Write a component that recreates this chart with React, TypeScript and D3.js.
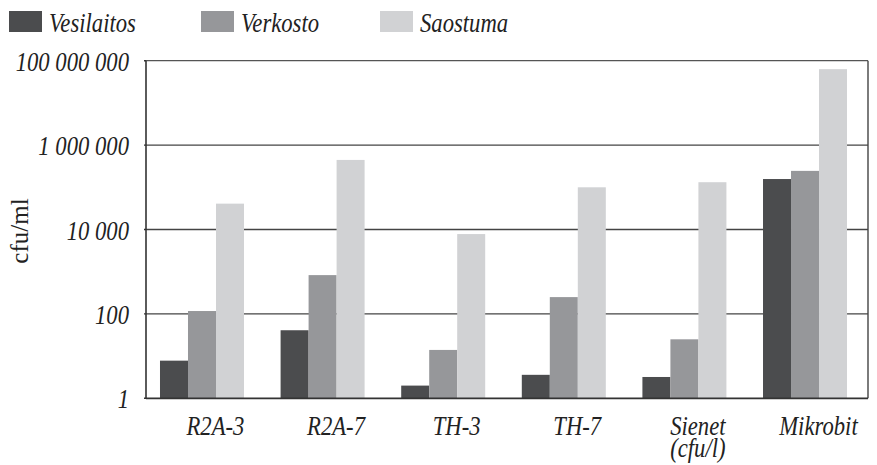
import React from "react";
import * as d3 from "d3";

const categories = ["R2A-3", "R2A-7", "TH-3", "TH-7", "Sienet\n(cfu/l)", "Mikrobit"];
const seriesNames = ["Vesilaitos", "Verkosto", "Saostuma"];
const vesilaitos = [7.8, 41, 2, 3.6, 3.2, 157000];
const verkosto = [117, 830, 14, 250, 25, 245000];
const saostuma = [41000, 445000, 7800, 100000, 132000, 63000000];
const seriesValues = [vesilaitos, verkosto, saostuma];
const colors = ["#4b4c4e", "#96979a", "#d1d2d4"];
const yTicks = [1, 100, 10000, 1000000, 100000000];

const W = 877;
const H = 465;
const M = { left: 146, right: 868, top: 60.7, bottom: 398.3 };
const FONT = "'Liberation Serif', 'Times New Roman', serif";
const SX = 0.84;
const FS = 27;

export default function App() {
  const x = d3
    .scaleBand<string>()
    .domain(categories)
    .range([M.left, M.right])
    .paddingInner(0.3035)
    .paddingOuter(0.145)
    .align(0.4);
  const inner = d3
    .scaleBand<number>()
    .domain([0, 1, 2])
    .range([0, x.bandwidth()]);
  const y = d3.scaleLog().domain([1, 1e8]).range([M.bottom, M.top]);
  const fmt = (v: number) => d3.format(",")(v).replace(/,/g, " ");

  const legendX = [9, 201, 380];

  return (
    <svg
      width={W}
      height={H}
      style={{ position: "absolute", left: 0, top: 0, display: "block", background: "#fff" }}
    >
      {/* legend */}
      {seriesNames.map((n, i) => (
        <g key={n}>
          <rect x={legendX[i]} y={11} width={33} height={21} fill={colors[i]} />
          <text
            transform={`translate(${legendX[i] + 40},32) scale(${SX},1)`}
            fontFamily={FONT}
            fontStyle="italic"
            fontSize={FS}
            fill="#222"
          >
            {n}
          </text>
        </g>
      ))}

      {/* gridlines */}
      {yTicks.slice(1, -1).map((t) => (
        <line
          key={t}
          x1={M.left}
          x2={M.right}
          y1={y(t)}
          y2={y(t)}
          stroke="#444"
          strokeWidth={1.4}
        />
      ))}

      {/* bars */}
      {categories.map((c, ci) => (
        <g key={c}>
          {seriesValues.map((vals, si) => (
            <rect
              key={si}
              x={(x(c) as number) + (inner(si) as number)}
              y={y(vals[ci])}
              width={inner.bandwidth()}
              height={M.bottom - y(vals[ci])}
              fill={colors[si]}
            />
          ))}
        </g>
      ))}

      {/* frame */}
      <line x1={M.left} x2={M.right} y1={M.top} y2={M.top} stroke="#555" strokeWidth={1.3} />
      <line x1={M.right} x2={M.right} y1={M.top} y2={M.bottom} stroke="#444" strokeWidth={1.4} />
      <line x1={M.left} x2={M.left} y1={M.top} y2={M.bottom} stroke="#333" strokeWidth={1.6} />
      <line x1={M.left} x2={M.right} y1={M.bottom} y2={M.bottom} stroke="#333" strokeWidth={1.8} />

      {/* y ticks */}
      {yTicks.map((t) => (
        <g key={t}>
          <line x1={M.left - 2} x2={M.left} y1={y(t)} y2={y(t)} stroke="#333" strokeWidth={1.4} />
          <text
            transform={`translate(129,${y(t) + 10}) scale(${SX},1)`}
            textAnchor="end"
            fontFamily={FONT}
            fontStyle="italic"
            fontSize={FS}
            fill="#222"
          >
            {fmt(t)}
          </text>
        </g>
      ))}

      {/* y label */}
      <text
        transform={`translate(28,231) rotate(-90)`}
        textAnchor="middle"
        fontFamily={FONT}
        fontSize={25}
        fill="#222"
      >
        cfu/ml
      </text>

      {/* x labels */}
      {categories.map((c) => {
        const lines = c.split("\n");
        const cx = (x(c) as number) + x.bandwidth() * 0.66;
        return (
          <text
            key={c}
            transform={`translate(${cx},435) scale(${SX},1)`}
            textAnchor="middle"
            fontFamily={FONT}
            fontStyle="italic"
            fontSize={FS}
            fill="#222"
          >
            {lines.map((l, li) => (
              <tspan key={li} x={0} dy={li === 0 ? 0 : 22}>
                {l}
              </tspan>
            ))}
          </text>
        );
      })}
    </svg>
  );
}
